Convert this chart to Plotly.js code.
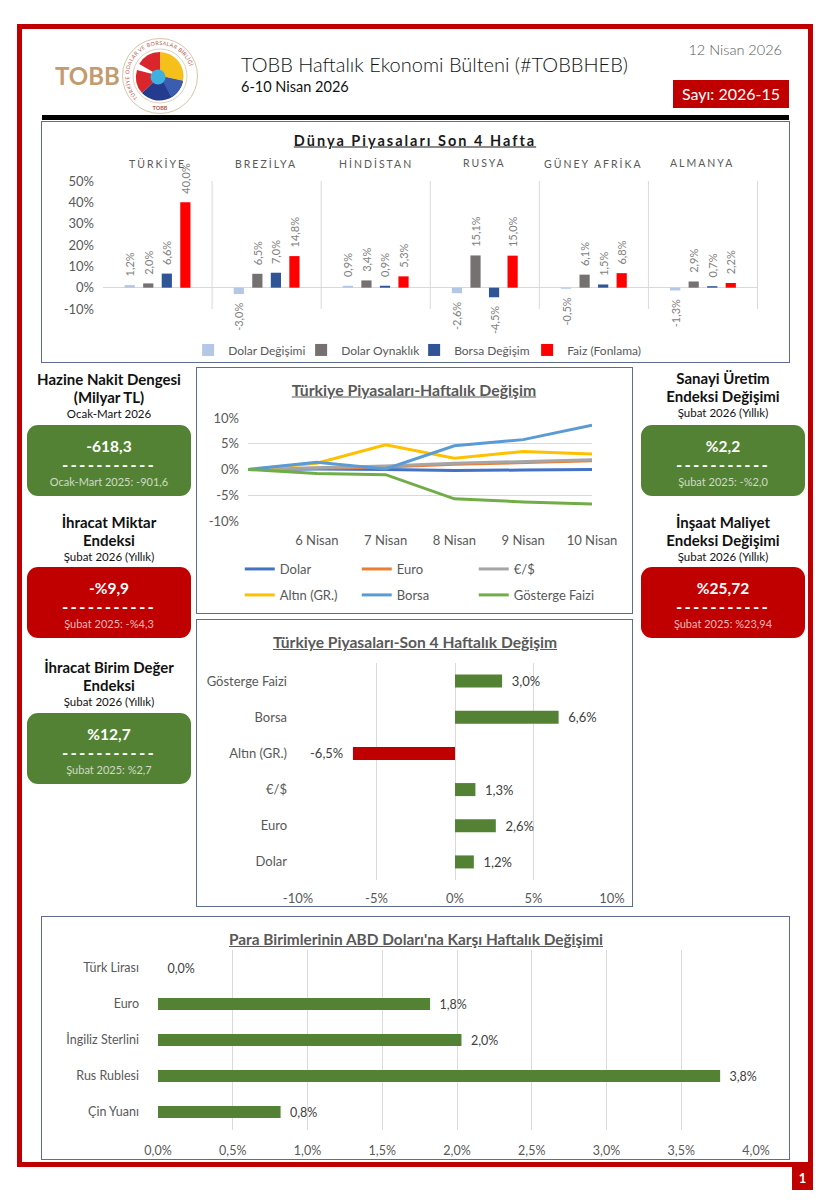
<!DOCTYPE html>
<html><head><meta charset="utf-8">
<script src="https://cdn.plot.ly/plotly-3.0.1.min.js"></script>
<style>
body{margin:0;background:#fff;}
#page{position:relative;width:831px;height:1200px;overflow:hidden;font-family:Lato,"Open Sans",sans-serif;color:#000;background:#fff;}
.abs{position:absolute;}
.frame{left:17px;top:24px;width:796px;height:1143px;border:5px solid #c00000;box-sizing:border-box;}
.box{border:1.5px solid #5d6d8c;box-sizing:border-box;background:#fff;}
.ctitle{position:absolute;transform:translate(-50%,-50%);font-weight:700;text-decoration:underline;color:#595959;white-space:nowrap;}
.kt{position:absolute;transform:translateX(-50%);text-align:center;font-weight:700;font-size:15px;line-height:17.5px;color:#111;white-space:nowrap;}
.kt .ks{font-weight:400;font-size:11.5px;line-height:16px;display:block;}
.kb{position:absolute;border-radius:11px;color:#fff;text-align:center;box-sizing:border-box;padding-top:10px;}
.kb .v{font-weight:700;font-size:15.5px;line-height:22px;}
.kb .d{font-weight:700;font-size:17px;line-height:16px;letter-spacing:2.2px;}
.kb .s{font-size:11px;line-height:18px;color:rgba(255,255,255,0.72);}
.g{background:#548235;} .r{background:#c00000;}
#c1 .annotation-text{letter-spacing:2px;}
.js-plotly-plot g.scrollbox{clip-path:none !important;}
</style></head>
<body>
<div id="page">
  <div class="abs frame"></div>
  <div class="abs" style="left:792px;top:1166px;width:21px;height:24px;background:#c00000;color:#fff;font-weight:700;font-size:13px;line-height:24px;text-align:center;">1</div>

  <div class="abs" style="left:55px;top:61px;font-size:24px;line-height:30px;font-weight:700;color:#c39b6e;">TOBB</div>
  <svg class="abs" style="left:121px;top:37px;" width="78" height="78" viewBox="0 0 78 78">
    <defs><path id="arcT" d="M 17.1,60.9 A 31,31 0 1 1 60.9,60.9"/></defs>
    <circle cx="39" cy="39" r="37.5" fill="#fff" stroke="#d8c4a8" stroke-width="1"/>
    <circle cx="39" cy="39" r="27" fill="none" stroke="#d8c4a8" stroke-width="0.8"/>
    <text font-size="5.3" fill="#b5544a" font-family="Lato,sans-serif" letter-spacing="0.35"><textPath href="#arcT">TÜRKİYE ODALAR VE BORSALAR BİRLİĞİ</textPath></text>
    <text x="39" y="73" font-size="5.5" fill="#b5544a" text-anchor="middle" font-family="Lato,sans-serif" font-weight="700">TOBB</text>
    <path d="M39,39 L18.2,27 A24,24 0 0 1 39,15 Z" fill="#d9262c"/>
    <path d="M39,39 L16,33 A24,24 0 0 0 21,56 Z" fill="#d9262c"/>
    <path d="M39,39 L39,15 A24,24 0 0 1 62,44 Z" fill="#f5c01a"/>
    <path d="M39,39 L62,44 A24,24 0 0 1 21,56 Z" fill="#243b8f"/>
    <path d="M39,39 L62,44 A24,24 0 0 1 50,60 Z" fill="#3a5db0"/>
    <circle cx="37" cy="40" r="7.5" fill="#3fb0e0"/>
  </svg>

  <div class="abs" style="left:241px;top:51px;font-size:20px;line-height:26px;font-weight:300;color:#111;white-space:nowrap;">TOBB Haftalık Ekonomi Bülteni (#TOBBHEB)</div>
  <div class="abs" style="left:241px;top:77px;font-size:14.5px;line-height:20px;color:#111;white-space:nowrap;">6-10 Nisan 2026</div>
  <div class="abs" style="right:49px;top:40px;font-size:14.5px;line-height:20px;color:#595959;font-weight:300;white-space:nowrap;">12 Nisan 2026</div>
  <div class="abs" style="left:673px;top:80px;width:116px;height:28px;background:#c00000;color:#fff;font-size:16px;line-height:28px;text-align:center;">Sayı: 2026-15</div>
  <div class="abs" style="left:42px;top:115px;width:747px;height:5px;background:#000;"></div>

  <div class="abs box" style="left:41px;top:121px;width:749px;height:242px;"></div>
  <div class="abs box" style="left:196px;top:367px;width:437px;height:247px;"></div>
  <div class="abs box" style="left:196px;top:619px;width:437px;height:288px;"></div>
  <div class="abs box" style="left:41px;top:916px;width:749px;height:244px;"></div>

  <div id="kpis"></div>

  <div id="c1" class="abs" style="left:42px;top:122px;width:746px;height:262px;"></div>
  <div id="c2" class="abs" style="left:197px;top:368px;width:435px;height:260px;"></div>
  <div id="c3" class="abs" style="left:197px;top:620px;width:435px;height:286px;"></div>
  <div id="c4" class="abs" style="left:42px;top:918px;width:746px;height:240px;"></div>

  <div class="ctitle" style="left:415px;top:140px;font-size:14.5px;letter-spacing:2px;color:#1a1a1a;">Dünya Piyasaları Son 4 Hafta</div>
  <div class="ctitle" style="left:414px;top:389px;font-size:15.8px;">Türkiye Piyasaları-Haftalık Değişim</div>
  <div class="ctitle" style="left:415px;top:642px;font-size:15.6px;">Türkiye Piyasaları-Son 4 Haftalık Değişim</div>
  <div class="ctitle" style="left:416px;top:939px;font-size:15.4px;">Para Birimlerinin ABD Doları'na Karşı Haftalık Değişimi</div>
</div>
<script>
// ---------- Data ----------
const countries = ['TÜRKİYE','BREZİLYA','HİNDİSTAN','RUSYA','GÜNEY AFRİKA','ALMANYA'];
const dolarDegisimi = [1.2, -3.0, 0.9, -2.6, -0.5, -1.3];
const dolarOynaklik = [2.0, 6.5, 3.4, 15.1, 6.1, 2.9];
const borsaDegisim  = [6.6, 7.0, 0.9, -4.5, 1.5, 0.7];
const faizFonlama   = [40.0, 14.8, 5.3, 15.0, 6.8, 2.2];
const worldTickVals = [-10, 0, 10, 20, 30, 40, 50];
const worldTickText = ['-10%','0%','10%','20%','30%','40%','50%'];

const dayLabels = ['6 Nisan','7 Nisan','8 Nisan','9 Nisan','10 Nisan'];
const wDolar    = [0, 0.1, 0.0, -0.2, -0.1, 0.0];
const wEuro     = [0, 0.2, 0.5, 1.0, 1.4, 1.7];
const wEurUsd   = [0, 0.3, 0.7, 1.2, 1.6, 1.9];
const wAltin    = [0, 1.2, 4.8, 2.2, 3.5, 3.0];
const wBorsa    = [0, 1.4, 0.1, 4.6, 5.8, 8.6];
const wGosterge = [0, -0.8, -1.0, -5.7, -6.3, -6.7];
const weekTickVals = [-10, -5, 0, 5, 10];
const weekTickText = ['-10%','-5%','0%','5%','10%'];

const trCats = ['Dolar','Euro','€/$','Altın (GR.)','Borsa','Gösterge Faizi'];
const trVals = [1.2, 2.6, 1.3, -6.5, 6.6, 3.0];
const trTickVals = [-10, -5, 0, 5, 10];
const trTickText = ['-10%','-5%','0%','5%','10%'];

const currencies = ['Türk Lirası','Euro','İngiliz Sterlini','Rus Rublesi','Çin Yuanı'];
const usdChange  = [0.0, 1.82, 2.03, 3.76, 0.82];
const curTickVals = [0, 0.5, 1, 1.5, 2, 2.5, 3, 3.5, 4];
const curTickText = ['0,0%','0,5%','1,0%','1,5%','2,0%','2,5%','3,0%','3,5%','4,0%'];

const kpiLeft = [
  {t:['Hazine Nakit Dengesi','(Milyar TL)'], s:'Ocak-Mart 2026', v:'-618,3', p:'Ocak-Mart 2025: -901,6', c:'g'},
  {t:['İhracat Miktar','Endeksi'], s:'Şubat 2026 (Yıllık)', v:'-%9,9', p:'Şubat 2025: -%4,3', c:'r'},
  {t:['İhracat Birim Değer','Endeksi'], s:'Şubat 2026 (Yıllık)', v:'%12,7', p:'Şubat 2025: %2,7', c:'g'}
];
const kpiRight = [
  {t:['Sanayi Üretim','Endeksi Değişimi'], s:'Şubat 2026 (Yıllık)', v:'%2,2', p:'Şubat 2025: -%2,0', c:'g'},
  {t:['İnşaat Maliyet','Endeksi Değişimi'], s:'Şubat 2026 (Yıllık)', v:'%25,72', p:'Şubat 2025: %23,94', c:'r'}
];

// ---------- KPI cards ----------
const kpiHost = document.getElementById('kpis');
const leftPos  = [{ty:371, by:425}, {ty:514, by:567}, {ty:659, by:713}];
const rightPos = [{ty:370, by:425}, {ty:514, by:567}];
function addKpis(list, pos, cx, bl, bw) {
  list.forEach((k, i) => {
    const t = document.createElement('div');
    t.className = 'kt';
    t.style.left = cx + 'px'; t.style.top = pos[i].ty + 'px';
    t.innerHTML = k.t.join('<br>') + '<span class="ks">' + k.s + '</span>';
    kpiHost.appendChild(t);
    const b = document.createElement('div');
    b.className = 'kb ' + k.c;
    b.style.left = bl + 'px'; b.style.top = pos[i].by + 'px';
    b.style.width = bw + 'px'; b.style.height = '71px';
    b.innerHTML = '<div class="v">' + k.v + '</div><div class="d">-----------</div><div class="s">' + k.p + '</div>';
    kpiHost.appendChild(b);
  });
}
addKpis(kpiLeft, leftPos, 109, 27, 164);
addKpis(kpiRight, rightPos, 723, 641, 164);

// ---------- Charts ----------
const FONT = 'Lato, "Open Sans", sans-serif';
const GRID = '#d9d9d9';
const TXT = '#595959';
const cfg = {displayModeBar: false, staticPlot: true};
const pad = '\u00a0\u00a0';
const tmplY = vals => vals.map(v => v >= 0 ? pad + '%{y:.1f}%' : '%{y:.1f}%' + pad);
const tmplX = vals => vals.map(v => v >= 0 ? pad + '%{x:.1f}%' : '%{x:.1f}%' + pad);

// Chart 1: Dünya Piyasaları
const worldSeries = [
  {name:'Dolar Değişimi', y:dolarDegisimi, color:'#b4c7e7'},
  {name:'Dolar Oynaklık', y:dolarOynaklik, color:'#767171'},
  {name:'Borsa Değişim',  y:borsaDegisim,  color:'#2f5597'},
  {name:'Faiz (Fonlama)', y:faizFonlama,   color:'#ff0000'}
];
const c1traces = worldSeries.map(s => ({
  type:'bar', x:countries, y:s.y, name:s.name, marker:{color:s.color},
  texttemplate:tmplY(s.y), textposition:'outside', textangle:-90, constraintext:'none',
  cliponaxis:false, textfont:{color:'#7f7f7f', size:11, family:FONT}
}));
const sepShapes = countries.map((c, i) => ({
  type:'line', xref:'x', yref:'paper', x0:i+0.5, x1:i+0.5, y0:0, y1:1,
  line:{color:GRID, width:1}
}));
const countryAnn = countries.map(c => ({
  x:c, xref:'x', y:1.14, yref:'paper', text:c, showarrow:false,
  font:{size:10.5, color:TXT, family:FONT}, yanchor:'middle'
}));
Plotly.newPlot('c1', c1traces, {
  width:746, height:262, margin:{l:61, r:30, t:59, b:75},
  paper_bgcolor:'rgba(0,0,0,0)', plot_bgcolor:'rgba(0,0,0,0)',
  font:{family:FONT, color:TXT}, separators:',.',
  barmode:'group', bargap:0.32, bargroupgap:0.45,
  xaxis:{showticklabels:false, showgrid:false, zeroline:false, fixedrange:true},
  yaxis:{range:[-10,50], tickvals:worldTickVals, ticktext:worldTickText, showgrid:false,
         zeroline:true, zerolinecolor:GRID, zerolinewidth:1.5, ticklabelstandoff:8,
         tickfont:{size:13, color:TXT}},
  shapes:sepShapes, annotations:countryAnn,
  showlegend:true,
  legend:{orientation:'h', x:0.475, xanchor:'center', y:-0.32, yanchor:'middle',
          font:{size:12, color:TXT}, itemwidth:30, entrywidth:68, entrywidthmode:'pixels'}
}, cfg);

// Chart 2: Haftalık değişim lines
const xIdx = wDolar.map((_, i) => i);
const weekSeries = [
  {name:'Dolar', y:wDolar, color:'#4472c4', lg:'legend'},
  {name:'Euro', y:wEuro, color:'#ed7d31', lg:'legend'},
  {name:'€/$', y:wEurUsd, color:'#a5a5a5', lg:'legend'},
  {name:'Altın (GR.)', y:wAltin, color:'#ffc000', lg:'legend2'},
  {name:'Borsa', y:wBorsa, color:'#5b9bd5', lg:'legend2'},
  {name:'Gösterge Faizi', y:wGosterge, color:'#70ad47', lg:'legend2'}
];
const lgCommon = {orientation:'h', xanchor:'left', yanchor:'middle', x:-0.024,
  font:{size:13, color:TXT}, itemwidth:30, entrywidth:72, entrywidthmode:'pixels', traceorder:'normal'};
Plotly.newPlot('c2', weekSeries.map(s => ({
  type:'scatter', mode:'lines', x:xIdx, y:s.y, name:s.name, legend:s.lg,
  line:{color:s.color, width:3}, cliponaxis:false
})), {
  width:435, height:260, margin:{l:51, r:40, t:50, b:107},
  paper_bgcolor:'rgba(0,0,0,0)', plot_bgcolor:'rgba(0,0,0,0)',
  font:{family:FONT, color:TXT}, separators:',.',
  xaxis:{range:[0,5], tickvals:[1,2,3,4,5], ticktext:dayLabels, showgrid:false, zeroline:false,
         showline:false, ticklabelstandoff:10, tickfont:{size:13, color:TXT}},
  yaxis:{range:[-10,10], tickvals:weekTickVals, ticktext:weekTickText, showgrid:true, gridcolor:GRID,
         zeroline:false, ticklabelstandoff:8, tickfont:{size:13, color:TXT}},
  showlegend:true,
  legend:Object.assign({}, lgCommon, {y:-0.466}),
  legend2:Object.assign({}, lgCommon, {y:-0.718})
}, cfg);

// Chart 3: Son 4 haftalık değişim
Plotly.newPlot('c3', [{
  type:'bar', orientation:'h', y:trCats, x:trVals,
  marker:{color:trVals.map(v => v < 0 ? '#c00000' : '#548235')},
  texttemplate:tmplX(trVals), textposition:'outside', constraintext:'none', cliponaxis:false,
  textfont:{size:13, color:'#404040', family:FONT}
}], {
  width:435, height:286, margin:{l:101, r:20, t:43, b:26},
  paper_bgcolor:'rgba(0,0,0,0)', plot_bgcolor:'rgba(0,0,0,0)',
  font:{family:FONT, color:TXT}, separators:',.', bargap:0.64, showlegend:false,
  xaxis:{range:[-10,10], tickvals:trTickVals, ticktext:trTickText, showgrid:true, gridcolor:GRID,
         zeroline:false, ticklabelstandoff:9, tickfont:{size:13, color:TXT}},
  yaxis:{showgrid:false, zeroline:false, ticklabelstandoff:10, tickfont:{size:13, color:TXT}}
}, cfg);

// Chart 4: Para birimleri
Plotly.newPlot('c4', [{
  type:'bar', orientation:'h', y:currencies, x:usdChange,
  marker:{color:'#548235'},
  texttemplate:usdChange.map(() => pad + '%{x:.1f}%'), textposition:'outside', constraintext:'none', cliponaxis:false,
  textfont:{size:12.5, color:'#404040', family:FONT}
}], {
  width:746, height:240, margin:{l:116, r:32, t:32, b:28},
  paper_bgcolor:'rgba(0,0,0,0)', plot_bgcolor:'rgba(0,0,0,0)',
  font:{family:FONT, color:TXT}, separators:',.', bargap:0.66, showlegend:false,
  xaxis:{range:[0,4], tickvals:curTickVals, ticktext:curTickText, showgrid:true, gridcolor:GRID,
         zeroline:false, ticklabelstandoff:11, tickfont:{size:12.5, color:TXT}},
  yaxis:{autorange:'reversed', showgrid:false, zeroline:false, ticklabelstandoff:18, tickfont:{size:12.5, color:TXT}}
}, cfg);
</script>
</body></html>
